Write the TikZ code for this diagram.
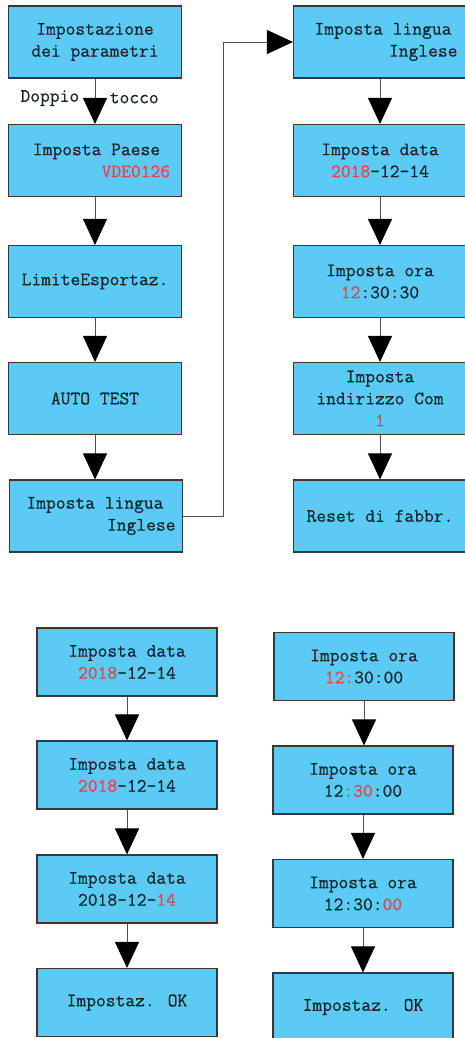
\documentclass[tikz,border=0pt]{standalone}
\usepackage{fontspec}
\usepackage{xcolor}
\usepackage{tikz}
\usetikzlibrary{arrows.meta, positioning}
\newfontfamily\lcdfont{Latin Modern Mono}[FakeBold=0.6]
\definecolor{lcdblue}{HTML}{5BCBF5}
\definecolor{lcdedge}{HTML}{383838}
\definecolor{lcdink}{HTML}{14262C}
\definecolor{lcdred}{HTML}{E8414B}
\definecolor{lcdwire}{HTML}{505050}

\begin{document}
\begin{tikzpicture}[x=1pt, y=-1pt,
  every node/.style={font=\lcdfont\fontsize{19}{22}\selectfont, text=lcdink},
  screen/.style={draw=lcdedge, line width=1.1pt, fill=lcdblue, minimum width=173pt, minimum height=72pt, inner sep=2pt, align=center},
  screenlow/.style={screen, minimum width=180pt, minimum height=68pt},
  flow/.style={draw=lcdwire, line width=0.9pt, -{Triangle[length=26pt, width=24pt, color=black]}}]
  \useasboundingbox (0,0) rectangle (464,1038);
  % settings menu, left column
  \node[screen] (menu) at (95,42) {Impostazione\\dei parametri};
  \node[screen, align=right] (country) at (95,160.5) {\hspace*{13pt}Imposta Paese\hspace*{10pt}\\\textcolor{lcdred}{VDE0126}};
  \node[screen] (limit) at (95,281.5) {LimiteEsportaz.};
  \node[screen] (autotest) at (95,398.5) {AUTO TEST};
  \node[screen, align=right] (langL) at (96,516) {\hspace*{10pt}Imposta lingua\hspace*{12pt}\\Inglese};
  % right column
  \node[screen, align=right] (langR) at (380,42) {\hspace*{12pt}Imposta lingua\hspace*{6pt}\\Inglese};
  \node[screen] (date) at (380,160.5) {Imposta data\\\textcolor{lcdred}{2018}-12-14};
  \node[screen] (clock) at (380,281.5) {Imposta ora\\\textcolor{lcdred}{12}:30:30};
  \node[screen] (comaddr) at (380,398.5) {Imposta\\indirizzo Com\\\textcolor{lcdred}{1}};
  \node[screen] (reset) at (380,516) {Reset di fabbr.};
  % date entry
  \node[screenlow] (dateA) at (127,662) {Imposta data\\\textcolor{lcdred}{2018}-12-14};
  \node[screenlow] (dateB) at (127,775) {Imposta data\\\textcolor{lcdred}{2018}-12-14};
  \node[screenlow] (dateC) at (127,889) {Imposta data\\2018-12-\textcolor{lcdred}{14}};
  \node[screenlow] (dateOK) at (127,1002.5) {Impostaz. OK};
  % time entry
  \node[screenlow] (timeA) at (364,666.5) {Imposta ora\\\textcolor{lcdred}{12:}30:00};
  \node[screenlow] (timeB) at (363,780) {Imposta ora\\12\textcolor{lcdred}{:30}:00};
  \node[screenlow] (timeC) at (363,893.5) {Imposta ora\\12:30:\textcolor{lcdred}{00}};
  \node[screenlow] (timeOK) at (363,1007) {Impostaz. OK};
  % connectors
  \draw[flow] (menu) -- node[pos=0.43, left=12pt] (dbl) {Doppio} node[pos=0.43, right=11pt] (tap) {tocco} (country);
  \foreach \a/\b in {country/limit, limit/autotest, autotest/langL, langR/date, date/clock, clock/comaddr, comaddr/reset, dateA/dateB, dateB/dateC, dateC/dateOK, timeA/timeB, timeB/timeC, timeC/timeOK}
    \draw[flow] (\a) -- (\a |- \b.north);
  \draw[flow] (langL.east) -- ++(40,0) |- (langR.west);
\end{tikzpicture}
\end{document}
